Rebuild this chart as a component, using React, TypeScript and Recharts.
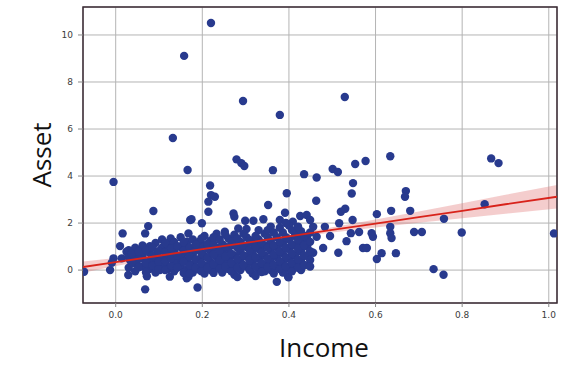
import React from 'react';
import {
  ComposedChart,
  Scatter,
  Area,
  XAxis,
  YAxis,
  CartesianGrid,
  ReferenceArea,
} from 'recharts';

const outlierPoints: [number, number][] = [
  [0.220, 10.51], [0.158, 9.11], [0.294, 7.19], [0.529, 7.36], [0.132, 5.62],
  [0.379, 6.60], [-0.005, 3.75], [0.166, 4.26], [0.279, 4.71], [0.290, 4.55],
  [0.297, 4.43], [0.363, 4.25], [0.218, 3.60], [0.435, 4.08], [0.464, 3.94],
  [0.501, 4.30], [0.513, 4.17], [0.553, 4.51], [0.577, 4.64], [0.634, 4.84],
  [0.548, 3.70], [0.867, 4.75], [0.884, 4.55], [0.670, 3.36], [0.668, 3.12],
  [0.852, 2.80], [0.758, 2.18], [0.799, 1.60], [1.012, 1.56], [0.689, 1.62],
  [0.707, 1.62], [0.734, 0.04], [0.757, -0.20], [0.680, 2.52], [0.636, 2.52],
];

const midPoints: [number, number][] = [
  [0.603, 2.38], [0.545, 3.26], [0.395, 3.27], [0.463, 2.95], [0.520, 2.48],
  [0.530, 2.61], [0.634, 1.84], [0.634, 1.57], [0.637, 1.36], [0.647, 0.72],
  [0.614, 0.72], [0.603, 0.47], [0.571, 0.94], [0.580, 0.94], [0.591, 1.57],
  [0.594, 1.42], [0.562, 1.62], [0.543, 1.57], [0.533, 1.23], [0.514, 0.74],
  [0.516, 1.99], [0.495, 1.45], [0.479, 0.94], [0.456, 0.74], [0.449, 0.43],
  [0.437, 0.21], [0.398, -0.28], [0.483, 1.84], [0.456, 1.84], [0.426, 2.30],
  [0.441, 2.34], [0.547, 2.13], [0.449, 2.13], [0.409, 2.06], [0.464, 1.42],
  [0.441, 1.40], [0.418, 1.57],
];

const lowIncomePoints: [number, number][] = [
  [0.087, 2.51], [0.075, 1.87], [0.068, 1.56], [0.016, 1.56], [0.010, 1.02],
  [0.079, 1.02], [0.058, 0.85], [0.025, 0.78], [0.041, 0.64], [-0.005, 0.50],
  [-0.009, 0.31], [-0.013, 0.00], [-0.073, -0.07], [0.029, -0.21], [0.072, -0.26],
  [0.068, -0.82], [0.127, 1.35], [0.118, 0.92], [0.125, -0.28], [0.102, 0.00],
  [0.094, 0.28], [0.048, 0.28], [0.033, 0.43], [0.083, 0.50], [0.114, 0.28],
  [0.141, 0.43], [0.148, 0.14], [0.156, 0.71], [0.164, 1.21], [0.172, 2.13],
  [0.164, -0.35], [0.148, 0.99], [0.137, 0.64], [0.098, 0.78], [0.060, 0.50],
  [0.014, 0.50], [0.220, 3.19], [0.229, 3.12], [0.214, 2.91], [0.214, 2.48],
  [0.175, 2.16], [0.272, 2.41], [0.274, 2.27], [0.352, 2.77], [0.299, 2.10],
  [0.318, 2.10], [0.341, 2.16], [0.379, 2.13], [0.391, 2.44], [0.199, 1.99],
  [0.168, 1.56], [0.283, 1.77], [0.252, 1.63], [0.168, -0.28], [0.189, -0.74],
  [0.372, -0.50], [0.399, -0.31],
];

const densePoints: [number, number][] = [
  [0.030, 0.10], [0.030, 0.55], [0.030, 0.85],
  [0.045, -0.05], [0.045, 0.30], [0.045, 0.95],
  [0.062, 0.15], [0.062, 0.62], [0.062, 1.05],
  [0.078, 0.05], [0.078, 0.40], [0.078, 0.75],
  [0.092, -0.10], [0.092, 0.55], [0.092, 1.15],
  [0.107, 0.20], [0.107, 0.48], [0.107, 0.95], [0.107, 1.30],
  [0.121, 0.05], [0.121, 0.65], [0.121, 1.05],
  [0.135, -0.05], [0.135, 0.30], [0.135, 0.85], [0.135, 1.20],
  [0.150, 0.18], [0.150, 0.55], [0.150, 1.40],
  [0.165, 0.05], [0.165, 0.42], [0.165, 0.80], [0.165, 1.05],
  [0.178, 0.25], [0.178, 0.65], [0.178, 1.30], [0.178, -0.10],
  [0.192, 0.02], [0.192, 0.45], [0.192, 0.90], [0.192, 1.20],
  [0.205, 0.20], [0.205, 0.60], [0.205, 1.05], [0.205, 1.45], [0.205, -0.15],
  [0.219, 0.00], [0.219, 0.35], [0.219, 0.80], [0.219, 1.25],
  [0.233, 0.15], [0.233, 0.55], [0.233, 0.95], [0.233, 1.55],
  [0.246, -0.10], [0.246, 0.30], [0.246, 0.72], [0.246, 1.10],
  [0.260, 0.05], [0.260, 0.45], [0.260, 0.88], [0.260, 1.35],
  [0.274, 0.20], [0.274, 0.62], [0.274, 1.05], [0.274, 1.50], [0.274, -0.20],
  [0.288, 0.00], [0.288, 0.40], [0.288, 0.80], [0.288, 1.20],
  [0.302, 0.15], [0.302, 0.58], [0.302, 0.98], [0.302, 1.40], [0.302, 1.75],
  [0.316, -0.15], [0.316, 0.30], [0.316, 0.72], [0.316, 1.15],
  [0.330, 0.05], [0.330, 0.48], [0.330, 0.90], [0.330, 1.30], [0.330, 1.70],
  [0.344, 0.20], [0.344, 0.62], [0.344, 1.05], [0.344, 1.55], [0.344, -0.05],
  [0.358, 0.00], [0.358, 0.38], [0.358, 0.82], [0.358, 1.22], [0.358, 1.85],
  [0.372, 0.15], [0.372, 0.55], [0.372, 0.98], [0.372, 1.40],
  [0.386, -0.10], [0.386, 0.30], [0.386, 0.72], [0.386, 1.12], [0.386, 1.60],
  [0.400, 0.05], [0.400, 0.48], [0.400, 0.90], [0.400, 1.30], [0.400, 1.90],
  [0.414, 0.22], [0.414, 0.62], [0.414, 1.05], [0.414, 1.45],
  [0.428, 0.00], [0.428, 0.40], [0.428, 0.80], [0.428, 1.20], [0.428, 1.65],
  [0.442, 0.60], [0.442, 1.00], [0.442, 1.35],
];

const denseFillPoints: [number, number][] = [
  [0.037, 0.30], [0.037, 0.70],
  [0.053, 0.12], [0.053, 0.48], [0.053, 0.78],
  [0.070, 0.30], [0.070, 0.85], [0.070, -0.10],
  [0.085, 0.20], [0.085, 0.62], [0.085, 0.95],
  [0.099, 0.05], [0.099, 0.35], [0.099, 0.80],
  [0.114, 0.00], [0.114, 0.38], [0.114, 0.75], [0.114, 1.15],
  [0.128, 0.18], [0.128, 0.50], [0.128, 0.92],
  [0.142, 0.10], [0.142, 0.62], [0.142, 1.02],
  [0.157, -0.12], [0.157, 0.35], [0.157, 0.82], [0.157, 1.18],
  [0.171, 0.20], [0.171, 0.58], [0.171, 0.95], [0.171, -0.15],
  [0.185, 0.12], [0.185, 0.45], [0.185, 0.85], [0.185, 1.10],
  [0.198, 0.30], [0.198, 0.72], [0.198, 1.35], [0.198, -0.05],
  [0.212, 0.10], [0.212, 0.52], [0.212, 0.92], [0.212, 1.12],
  [0.226, -0.12], [0.226, 0.25], [0.226, 0.65], [0.226, 1.10], [0.226, 1.40],
  [0.240, 0.05], [0.240, 0.42], [0.240, 0.82], [0.240, 1.30],
  [0.253, 0.15], [0.253, 0.58], [0.253, 1.00], [0.253, 1.50],
  [0.267, -0.05], [0.267, 0.30], [0.267, 0.70], [0.267, 1.20],
  [0.281, 0.10], [0.281, 0.48], [0.281, 0.95], [0.281, 1.35], [0.281, -0.30],
  [0.295, 0.22], [0.295, 0.62], [0.295, 1.05], [0.295, 1.55],
  [0.309, 0.00], [0.309, 0.42], [0.309, 0.85], [0.309, 1.28],
  [0.323, 0.15], [0.323, 0.55], [0.323, 1.00], [0.323, 1.45], [0.323, -0.25],
  [0.337, -0.08], [0.337, 0.30], [0.337, 0.75], [0.337, 1.15],
  [0.351, 0.12], [0.351, 0.50], [0.351, 0.95], [0.351, 1.40], [0.351, 1.70],
  [0.365, -0.15], [0.365, 0.22], [0.365, 0.65], [0.365, 1.05], [0.365, 1.60],
  [0.379, 0.05], [0.379, 0.38], [0.379, 0.80], [0.379, 1.20], [0.379, 1.80],
  [0.393, 0.15], [0.393, 0.55], [0.393, 0.95], [0.393, 1.40], [0.393, 2.00],
  [0.407, -0.05], [0.407, 0.30], [0.407, 0.72], [0.407, 1.10], [0.407, 1.70],
  [0.421, 0.10], [0.421, 0.45], [0.421, 0.92], [0.421, 1.30], [0.421, 1.85],
  [0.435, 0.20], [0.435, 0.62], [0.435, 1.05], [0.435, 1.45],
  [0.449, 0.15], [0.449, 0.80], [0.449, 1.20], [0.449, 1.60],
];

// regression fit and its confidence band
const fitIncome = [-0.0755, 0.0, 0.1, 0.2, 0.3, 0.4, 0.5, 0.6, 0.7, 0.8, 0.9, 1.019];
const fitAsset = [0.13, 0.34, 0.61, 0.89, 1.16, 1.43, 1.71, 1.98, 2.25, 2.52, 2.8, 3.12];
const bandLow = [-0.11, 0.17, 0.5, 0.82, 1.1, 1.36, 1.6, 1.81, 2.01, 2.2, 2.4, 2.62];
const bandHigh = [0.37, 0.51, 0.72, 0.96, 1.22, 1.5, 1.82, 2.15, 2.49, 2.84, 3.2, 3.62];

const xTicks = [0, 0.2, 0.4, 0.6, 0.8, 1.0];
const yTicks = [0, 2, 4, 6, 8, 10];
const xDomain: [number, number] = [-0.0755, 1.019];
const yDomain: [number, number] = [-1.4, 11.19];
const xLabel = 'Income';
const yLabel = 'Asset';

const allPoints = [
  ...outlierPoints,
  ...midPoints,
  ...lowIncomePoints,
  ...densePoints,
  ...denseFillPoints,
].map(([x, y]) => ({ x, y }));

const fitData = fitIncome.map((x, i) => ({
  x,
  y: fitAsset[i],
  band: [bandLow[i], bandHigh[i]],
}));

const DOT = '#283a8e';

const Dot = (props: any) => {
  const { cx, cy } = props;
  if (cx == null || cy == null) return null;
  return <circle cx={cx} cy={cy} r={4.2} fill={DOT} />;
};

const NoDot = () => <g />;

const tickStyle = { fontSize: 9, fill: '#3c3c3c', fontFamily: 'DejaVu Sans' };

export default function App() {
  return (
    <div style={{ position: 'absolute', left: 0, top: 0, width: 571, height: 373, background: '#fff' }}>
      <ComposedChart
        width={571}
        height={373}
        data={fitData}
        margin={{ top: 7, right: 14, bottom: 0, left: 0 }}
      >
        <CartesianGrid stroke="#b4b4b4" strokeWidth={1} />
        <XAxis
          type="number"
          dataKey="x"
          domain={xDomain}
          allowDataOverflow
          ticks={xTicks}
          tickFormatter={(v: number) => v.toFixed(1)}
          height={70}
          axisLine={false}
          tickSize={4}
          tickMargin={5}
          tickLine={{ stroke: '#888' }}
          tick={tickStyle}
          label={{
            value: xLabel,
            position: 'insideBottom',
            offset: 16,
            dx: 4,
            style: { fontSize: 26, fill: '#111', fontFamily: 'Open Sans' },
          }}
        />
        <YAxis
          type="number"
          domain={yDomain}
          allowDataOverflow
          ticks={yTicks}
          width={83}
          axisLine={false}
          tickSize={5}
          tickMargin={5}
          tickLine={{ stroke: '#888' }}
          tick={tickStyle}
          label={{
            value: yLabel,
            angle: -90,
            position: 'insideLeft',
            offset: 42,
            style: { fontSize: 26, fill: '#111', fontFamily: 'Open Sans', textAnchor: 'middle' },
          }}
        />
        <Area
          type="linear"
          dataKey="band"
          stroke="none"
          fill="#e07070"
          fillOpacity={0.35}
          isAnimationActive={false}
          activeDot={false}
        />
        <Scatter data={allPoints} dataKey="y" shape={Dot} isAnimationActive={false} />
        <Scatter
          data={fitData}
          dataKey="y"
          shape={NoDot}
          line={{ stroke: '#d8231b', strokeWidth: 1.8 }}
          lineType="joint"
          isAnimationActive={false}
        />
        <ReferenceArea
          x1={xDomain[0]}
          x2={xDomain[1]}
          y1={yDomain[0]}
          y2={yDomain[1]}
          fill="none"
          stroke="#3a2a33"
          strokeWidth={1.5}
          ifOverflow="visible"
        />
      </ComposedChart>
    </div>
  );
}
